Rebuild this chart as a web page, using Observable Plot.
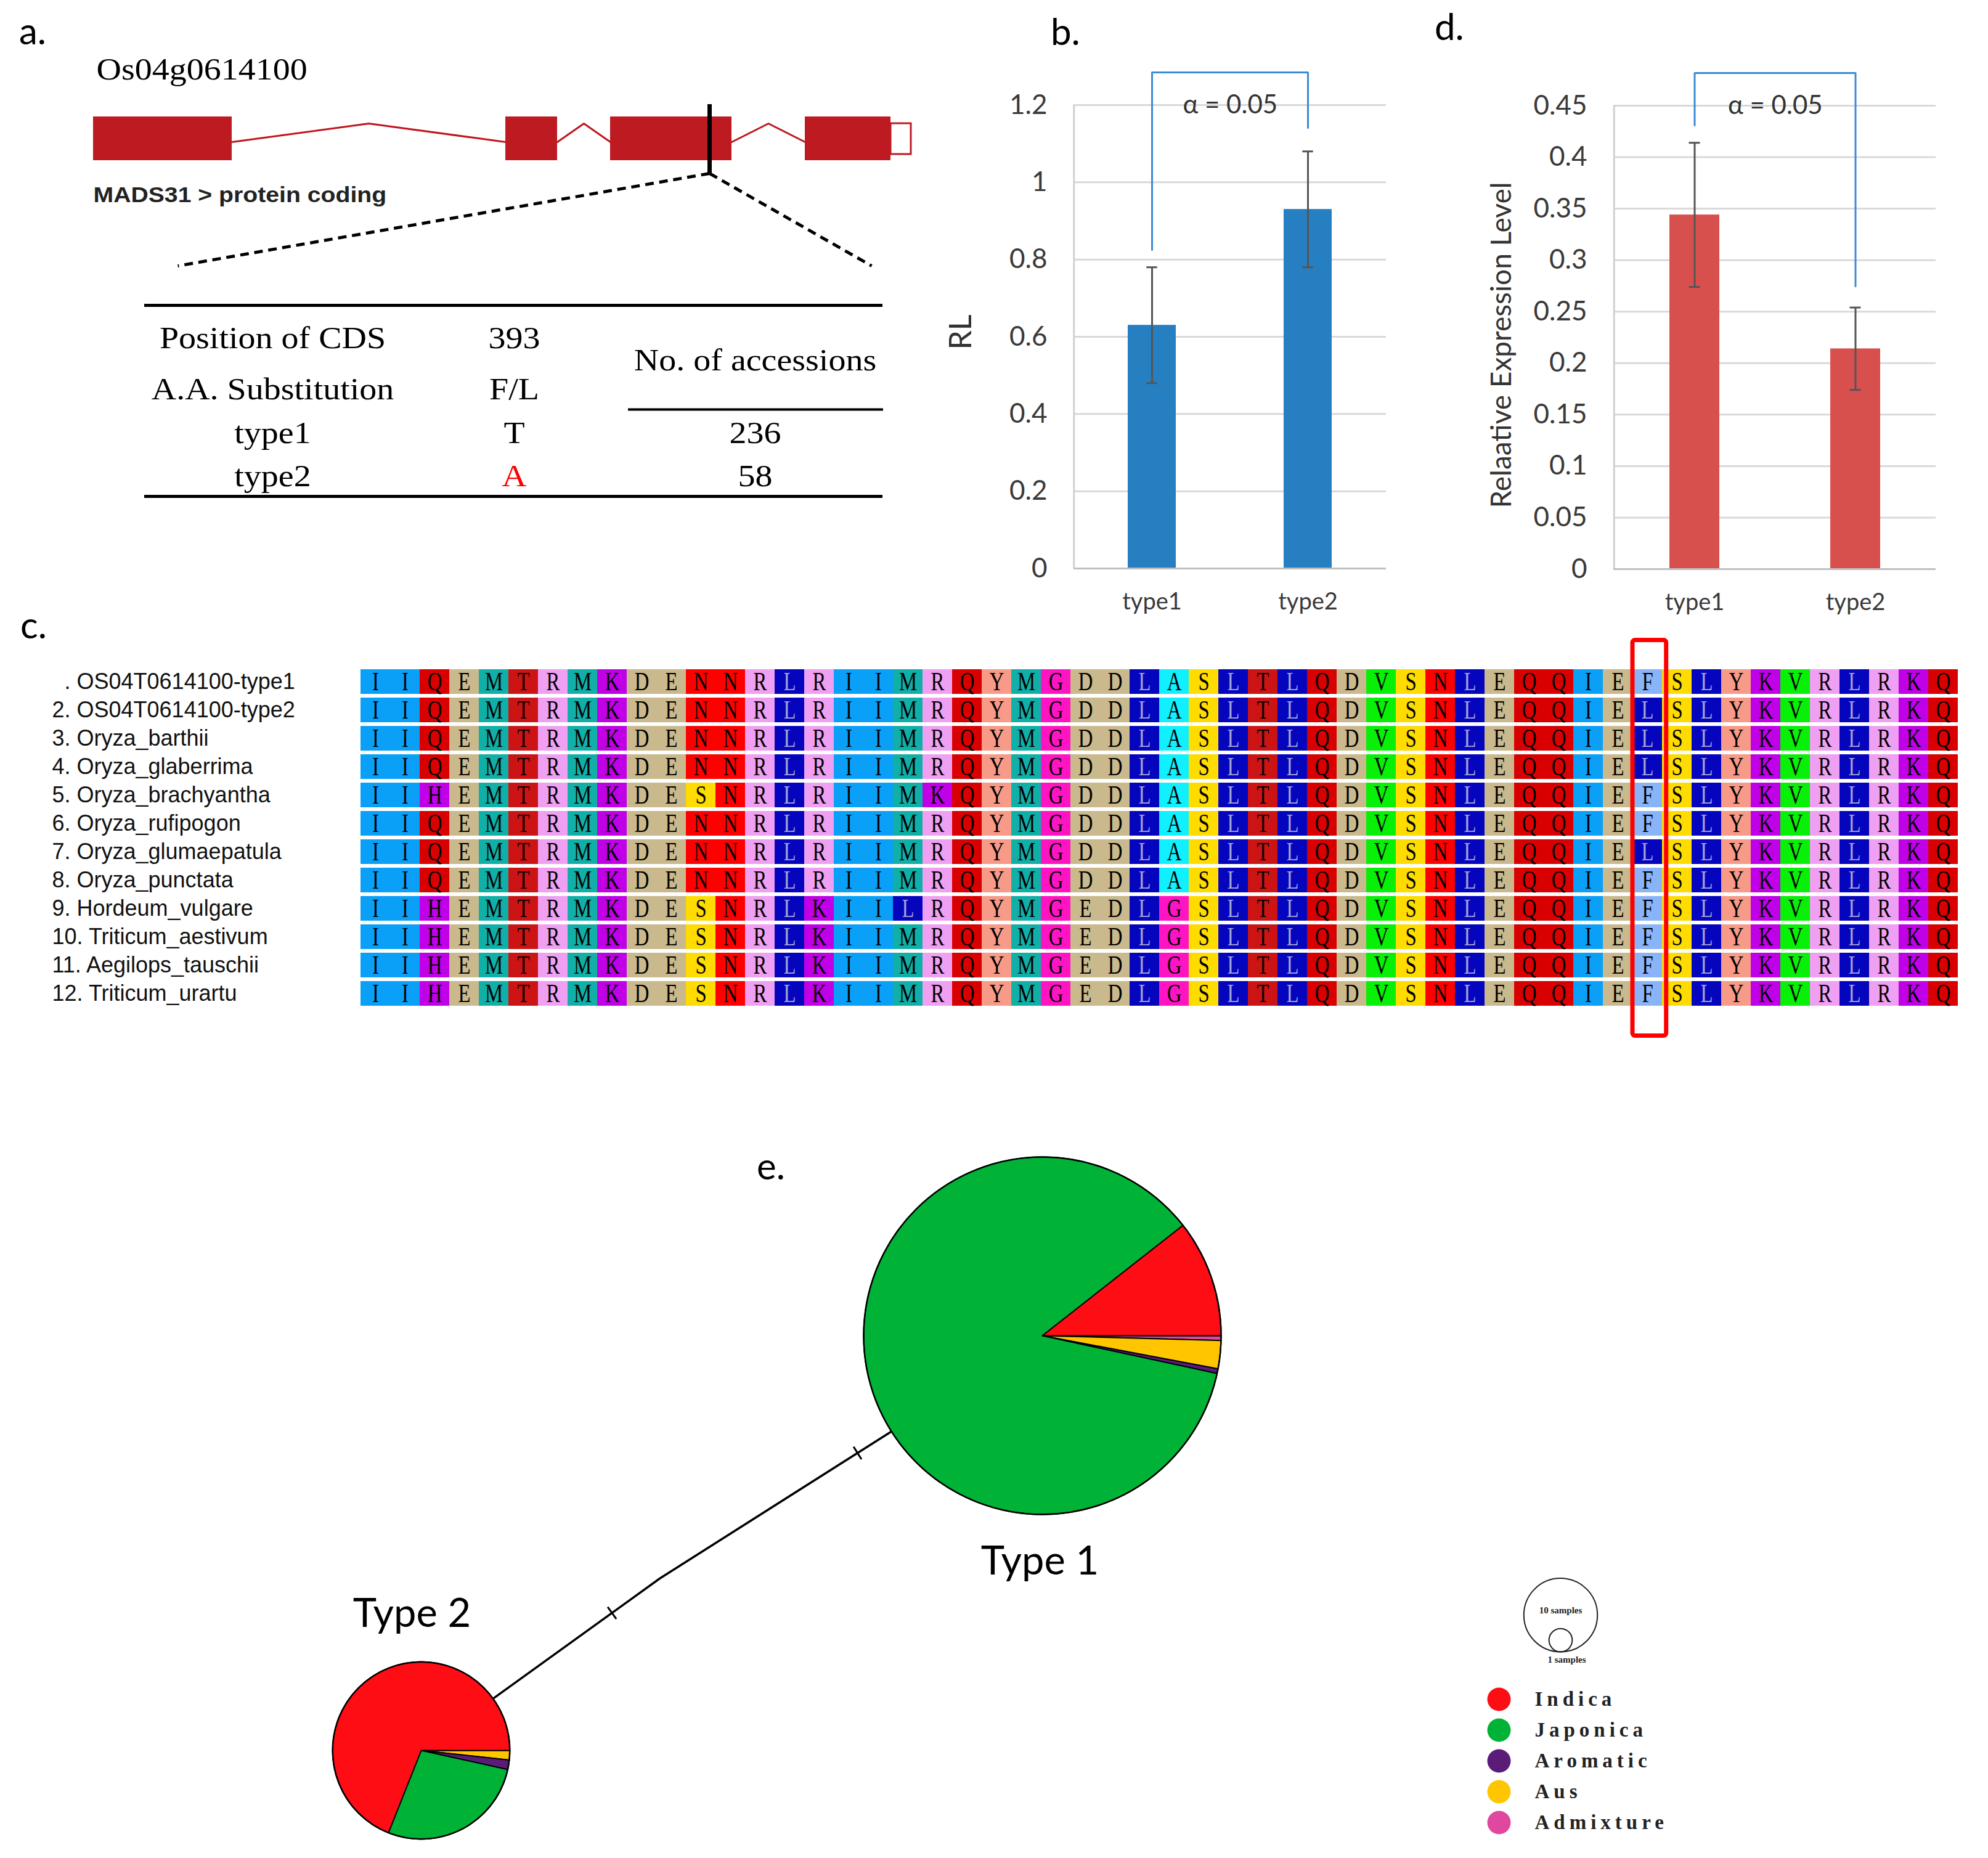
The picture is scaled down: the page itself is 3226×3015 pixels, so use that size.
<!DOCTYPE html>
<html>
<head>
<meta charset="utf-8">
<script src="https://cdn.jsdelivr.net/npm/d3@7"></script>
<script src="https://cdn.jsdelivr.net/npm/@observablehq/plot@0.6"></script>
<style>
  html, body { margin: 0; padding: 0; background: #fff; overflow: hidden; }
  #fig { position: relative; width: 3226px; height: 3015px; background: #fff; overflow: hidden; }
</style>
</head>
<body>
<div id="fig"></div>
<script>
// ======================= DATA =======================
// (a) gene model, in gene units (origin = start of exon 1)
const geneName = "Os04g0614100";
const transcriptName = "MADS31 > protein coding";
const exonStarts = [0, 669, 839, 1155];
const exonEnds = [225, 753, 1036, 1294];
const utrStarts = [1294];
const utrEnds = [1327];
const snpPositions = [1000];
// (a) table
const cdsPosition = "393";
const aaSubstitution = "F/L";
const accessionTypes = ["type1", "type2"];
const accessionAlleles = ["T", "A"];
const accessionCounts = ["236", "58"];

// (b) RL
const expTypes = ["type1", "type2"];
const rlValues = [0.63, 0.93];
const rlErrors = [0.15, 0.15];
const rlTicks = [0, 0.2, 0.4, 0.6, 0.8, 1, 1.2];
// (d) relative expression level
const relValues = [0.344, 0.214];
const relErrors = [0.07, 0.04];
const relTicks = [0, 0.05, 0.1, 0.15, 0.2, 0.25, 0.3, 0.35, 0.4, 0.45];
const alphaText = "\u03b1 = 0.05";

// (c) alignment
const seqNames = [
  "\u2007. OS04T0614100-type1",
  "2. OS04T0614100-type2",
  "3. Oryza_barthii",
  "4. Oryza_glaberrima",
  "5. Oryza_brachyantha",
  "6. Oryza_rufipogon",
  "7. Oryza_glumaepatula",
  "8. Oryza_punctata",
  "9. Hordeum_vulgare",
  "10. Triticum_aestivum",
  "11. Aegilops_tauschii",
  "12. Triticum_urartu"
];
const sequences = [
  "IIQEMTRMKDENNRLRIIMRQYMGDDLASLTLQDVSNLEQQIEFSLYKVRLRKQ",
  "IIQEMTRMKDENNRLRIIMRQYMGDDLASLTLQDVSNLEQQIELSLYKVRLRKQ",
  "IIQEMTRMKDENNRLRIIMRQYMGDDLASLTLQDVSNLEQQIELSLYKVRLRKQ",
  "IIQEMTRMKDENNRLRIIMRQYMGDDLASLTLQDVSNLEQQIELSLYKVRLRKQ",
  "IIHEMTRMKDESNRLRIIMKQYMGDDLASLTLQDVSNLEQQIEFSLYKVRLRKQ",
  "IIQEMTRMKDENNRLRIIMRQYMGDDLASLTLQDVSNLEQQIEFSLYKVRLRKQ",
  "IIQEMTRMKDENNRLRIIMRQYMGDDLASLTLQDVSNLEQQIELSLYKVRLRKQ",
  "IIQEMTRMKDENNRLRIIMRQYMGDDLASLTLQDVSNLEQQIEFSLYKVRLRKQ",
  "IIHEMTRMKDESNRLKIILRQYMGEDLGSLTLQDVSNLEQQIEFSLYKVRLRKQ",
  "IIHEMTRMKDESNRLKIIMRQYMGEDLGSLTLQDVSNLEQQIEFSLYKVRLRKQ",
  "IIHEMTRMKDESNRLKIIMRQYMGEDLGSLTLQDVSNLEQQIEFSLYKVRLRKQ",
  "IIHEMTRMKDESNRLKIIMRQYMGEDLGSLTLQDVSNLEQQIEFSLYKVRLRKQ"
];
const highlightColumns = [43];

// (e) haplotype network
const groups = ["Indica", "Japonica", "Aromatic", "Aus", "Admixture"];
const hapNames = ["Type 1", "Type 2"];
const hapCounts = [
  [25, 203, 1, 6, 1],   // Type 1 : Indica, Japonica, Aromatic, Aus, Admixture
  [40, 16, 1, 1, 0]     // Type 2
];
const sizeLegendSamples = [10, 1];
const sizeLegendLabels = ["10 samples", "1 samples"];

// ======================= STYLES / LAYOUT =======================
const aaColors = {
  I: "#0AA0F8", Q: "#D80000", E: "#C9B98C", D: "#C9B98C", M: "#10B0A8",
  T: "#CC1414", R: "#EFA0F2", K: "#C000E6", H: "#C000E6", N: "#FF0000",
  L: "#0505BE", S: "#FFDC00", Y: "#F79A88", G: "#FF14C4", A: "#10F0FF",
  V: "#08F008", F: "#8AB4FA"
};
const groupColors = ["#FF0D15", "#00B336", "#5A1C78", "#FFC600", "#E0489F"];
const fig = document.getElementById("fig");
function place(el, left, top) {
  el.style.position = "absolute";
  el.style.left = left + "px";
  el.style.top = top + "px";
  fig.appendChild(el);
  return el;
}
function squeezeText(t, sx) {
  const tr = t.getAttribute("transform") || "";
  const x = parseFloat(t.getAttribute("x")) || 0;
  const y = parseFloat(t.getAttribute("y")) || 0;
  t.setAttribute("transform", `${tr} translate(${x},${y}) scale(${sx},1) translate(${-x},${-y})`);
}
const baseStyle = {background: "transparent", overflow: "visible", fontFamily: "Lato", color: "#3a3a3a"};

// ======================= PANEL a =======================
const TRACK = {top: 189, bottom: 260, intronBase: 230, intronPeak: 200, utrTop: 200, utrBottom: 250, snpTop: 169, snpBottom: 281, zoomY: 431};
const exons = exonStarts.map((s, i) => ({start: s, end: exonEnds[i]}));
const utrs = utrStarts.map((s, i) => ({start: s, end: utrEnds[i]}));
const intronPts = [];
for (let i = 0; i < exons.length - 1; i++) {
  const a = exons[i].end, b = exons[i + 1].start;
  intronPts.push({id: i, x: a, y: TRACK.intronBase}, {id: i, x: (a + b) / 2, y: TRACK.intronPeak}, {id: i, x: b, y: TRACK.intronBase});
}
const zoomLines = [
  {x1: snpPositions[0], y1: TRACK.snpBottom, x2: 137, y2: TRACK.zoomY},
  {x1: snpPositions[0], y1: TRACK.snpBottom, x2: 1263, y2: TRACK.zoomY}
];
const TABLE = {colX: [291, 683, 1074], headY: [564, 647], countHeadY: 600, rowY: [718, 788]};
const tableRules = [
  {x1: 83, x2: 1281, y: 495, w: 5},
  {x1: 868, x2: 1282, y: 664, w: 4},
  {x1: 83, x2: 1281, y: 805, w: 5}
];
const tableCells = [
  {x: TABLE.colX[0], y: TABLE.headY[0], text: "Position of CDS", c: "#000"},
  {x: TABLE.colX[1], y: TABLE.headY[0], text: cdsPosition, c: "#000"},
  {x: TABLE.colX[0], y: TABLE.headY[1], text: "A.A. Substitution", c: "#000"},
  {x: TABLE.colX[1], y: TABLE.headY[1], text: aaSubstitution, c: "#000"},
  {x: TABLE.colX[2], y: TABLE.countHeadY, text: "No. of accessions", c: "#000"}
];
accessionTypes.forEach((t, i) => {
  tableCells.push({x: TABLE.colX[0], y: TABLE.rowY[i], text: t, c: "#000"});
  tableCells.push({x: TABLE.colX[1], y: TABLE.rowY[i], text: accessionAlleles[i], c: i === 1 ? "#FF0000" : "#000"});
  tableCells.push({x: TABLE.colX[2], y: TABLE.rowY[i], text: accessionCounts[i], c: "#000"});
});
const panelA = Plot.plot({
  width: 1500, height: 860, margin: 0,
  x: {domain: [-151, 1349], range: [0, 1500], axis: null},
  y: {domain: [0, 860], range: [0, 860], axis: null},
  color: {type: "identity"},
  style: baseStyle,
  marks: [
    Plot.line(intronPts, {x: "x", y: "y", z: "id", stroke: "#C0161E", strokeWidth: 3}),
    Plot.rect(exons, {x1: "start", x2: "end", y1: TRACK.top, y2: TRACK.bottom, fill: "#BD1A22"}),
    Plot.rect(utrs, {x1: "start", x2: "end", y1: TRACK.utrTop, y2: TRACK.utrBottom, fill: "#fff", stroke: "#BD1A22", strokeWidth: 3}),
    Plot.link(zoomLines, {x1: "x1", y1: "y1", x2: "x2", y2: "y2", stroke: "#000", strokeWidth: 5, strokeDasharray: "14,9"}),
    Plot.ruleX(snpPositions, {y1: TRACK.snpTop, y2: TRACK.snpBottom, stroke: "#000", strokeWidth: 7}),
    Plot.ruleY(tableRules, {y: "y", x1: "x1", x2: "x2", stroke: "#000", strokeWidth: "w"}),
    Plot.text([geneName], {x: 5, y: 128, textAnchor: "start", lineAnchor: "bottom", fontSize: 50, fontFamily: "Liberation Serif", fill: "#000"}),
    Plot.text([transcriptName], {x: 0, y: 327, textAnchor: "start", lineAnchor: "bottom", fontSize: 35, fontFamily: "Liberation Sans", fontWeight: "bold", fill: "#222"}),
    Plot.text(tableCells, {x: "x", y: "y", text: "text", fill: "c", lineAnchor: "bottom", fontSize: 50, fontFamily: "Liberation Serif"})
  ]
});
panelA.querySelectorAll("text").forEach(t => squeezeText(t, 1.12));
place(panelA, 0, 0);

// ======================= PANELS b & d =======================
function barPanel(cfg) {
  const data = expTypes.map((t, i) => ({type: t, value: cfg.values[i], err: cfg.errors[i]}));
  const frameW = cfg.width - cfg.mL - cfg.mR;
  const step = frameW / expTypes.length;
  const bw = step * (1 - 0.69);
  const capInset = (bw - 18) / 2;
  const top = cfg.ticks[cfg.ticks.length - 1];
  return Plot.plot({
    width: cfg.width, height: 1010,
    marginLeft: cfg.mL, marginRight: cfg.mR, marginTop: cfg.mT, marginBottom: cfg.mB,
    style: {...baseStyle, fontSize: "44px"},
    x: {type: "band", domain: expTypes, paddingInner: 0.69, paddingOuter: 0.345, align: 0.5, axis: null},
    y: {domain: [0, top], ticks: cfg.ticks, tickFormat: d => String(d), tickSize: 0, tickPadding: 43, label: null},
    marks: [
      Plot.ruleY(cfg.ticks.filter(t => t > 0), {stroke: "#D9D9D9", strokeWidth: 3}),
      Plot.ruleX([expTypes[0]], {y1: 0, y2: top, dx: -step / 2, stroke: "#D0D0D0", strokeWidth: 3}),
      Plot.barY(data, {x: "type", y: "value", fill: cfg.color}),
      Plot.ruleY([0], {stroke: "#BFBFBF", strokeWidth: 3}),
      Plot.ruleX(data, {x: "type", y1: d => d.value - d.err, y2: d => d.value + d.err, stroke: "#555", strokeWidth: 3}),
      Plot.tickY(data, {x: "type", y: d => d.value + d.err, stroke: "#555", strokeWidth: 3, insetLeft: capInset, insetRight: capInset}),
      Plot.tickY(data, {x: "type", y: d => d.value - d.err, stroke: "#555", strokeWidth: 3, insetLeft: capInset, insetRight: capInset}),
      Plot.line(cfg.bracket, {x: "x", y: "y", stroke: "#3A8BD6", strokeWidth: 3}),
      Plot.text([alphaText], {x: () => expTypes[0], y: () => top, dx: step / 2, fontSize: 42, fontFamily: "Lato", fill: "#333"}),
      Plot.text(expTypes, {x: d => d, frameAnchor: "bottom", lineAnchor: "top", dy: 40, fontSize: 38, fontFamily: "Lato", fill: "#3a3a3a"})
    ]
  });
}
const panelB = barPanel({
  values: rlValues, errors: rlErrors, ticks: rlTicks, color: "#267FC0",
  width: 800, mL: 242, mR: 51, mT: 170, mB: 88,
  bracket: [{x: "type1", y: 0.825}, {x: "type1", y: 1.2845}, {x: "type2", y: 1.2845}, {x: "type2", y: 1.141}]
});
place(panelB, 1500, 0);
const panelD = barPanel({
  values: relValues, errors: relErrors, ticks: relTicks, color: "#D8504D",
  width: 886, mL: 278, mR: 85, mT: 171, mB: 87,
  bracket: [{x: "type1", y: 0.4309}, {x: "type1", y: 0.4817}, {x: "type2", y: 0.4817}, {x: "type2", y: 0.2747}]
});
place(panelD, 2340, 0);

// ======================= PANEL c =======================
const cellData = [];
sequences.forEach((s, r) => [...s].forEach((aa, c) => cellData.push({row: r, col: c, aa})));
const nCols = sequences[0].length;
const panelC = Plot.plot({
  width: 3226, height: 680,
  marginLeft: 571, marginRight: 35, marginTop: 58, marginBottom: 59,
  x: {type: "band", domain: d3.range(nCols), padding: 0, axis: null},
  y: {type: "band", domain: d3.range(sequences.length), paddingInner: 0.13, paddingOuter: 0.065, axis: null},
  color: {type: "identity"},
  style: baseStyle,
  marks: [
    Plot.cell(cellData, {x: "col", y: "row", fill: d => aaColors[d.aa], inset: 0}),
    Plot.text(cellData, {x: "col", y: "row", text: "aa", fill: d => d.aa === "L" ? "#A4A4D4" : "#000", fontSize: 42, fontFamily: "Liberation Serif"}),
    Plot.cell(highlightColumns, {x: d => d, fill: "none", stroke: "#FF0000", strokeWidth: 7, insetTop: -39.5, insetBottom: -39.5, insetLeft: 0, insetRight: -6.7, rx: 4}),
    Plot.text(seqNames, {y: (d, i) => i, text: d => d, frameAnchor: "left", textAnchor: "start", dx: -487, fontSize: 36, fontFamily: "Liberation Sans", fill: "#111"})
  ]
});
panelC.querySelectorAll("text").forEach(t => { if (t.textContent.length === 1) squeezeText(t, 0.78); });
place(panelC, 0, 1020);

// ======================= PANEL e =======================
const E = {
  top: 1850, height: 1165,
  nodes: [{cx: 1691, cy: 2167, lx: 1687, ly: 2534}, {cx: 683, cy: 2840, lx: 668, ly: 2619}],
  kink: {x: 1070, y: 2561},
  mutations: [{seg: 0, t: 0.8}, {seg: 1, t: 0.517}],
  tickHalf: 12,
  sizeLegend: {x: 2532, bottom: 2680, textY: [2613, 2693], textX: [2532, 2542]},
  legend: {dotX: 2432, textX: 2490, y0: 2757, dy: 50}
};
const rMax = 290;
const rScale = d3.scaleSqrt().domain([0, d3.sum(hapCounts[0])]).range([0, rMax]);
const sliceOrder = [4, 3, 2, 1, 0]; // clockwise from east: Admixture, Aus, Aromatic, Japonica, Indica
const pieGen = d3.pie().sort(null).value(d => d.n).startAngle(Math.PI / 2).endAngle(Math.PI / 2 + 2 * Math.PI);
const nodes = hapNames.map((name, h) => ({name, n: d3.sum(hapCounts[h]), ...E.nodes[h]}));
const sliceMarks = [];
nodes.forEach((node, h) => {
  const r = rScale(node.n);
  const arcs = pieGen(sliceOrder.map(i => ({color: groupColors[i], n: hapCounts[h][i]})));
  arcs.filter(a => a.data.n > 0).forEach(a => {
    const pts = [{x: node.cx, y: node.cy}];
    const steps = Math.max(2, Math.ceil((a.endAngle - a.startAngle) / (Math.PI / 360)));
    for (let k = 0; k <= steps; k++) {
      const t = a.startAngle + (a.endAngle - a.startAngle) * k / steps;
      pts.push({x: node.cx + r * Math.sin(t), y: node.cy - r * Math.cos(t)});
    }
    pts.push({x: node.cx, y: node.cy});
    sliceMarks.push(Plot.line(pts, {x: "x", y: "y", fill: a.data.color, stroke: "#000", strokeWidth: 2, strokeLinejoin: "round"}));
  });
});
const edgePts = [{x: nodes[1].cx, y: nodes[1].cy}, {x: E.kink.x, y: E.kink.y}, {x: nodes[0].cx, y: nodes[0].cy}];
const mutTicks = E.mutations.map(m => {
  const p = edgePts[m.seg], q = edgePts[m.seg + 1];
  const x = p.x + (q.x - p.x) * m.t, y = p.y + (q.y - p.y) * m.t;
  const len = Math.hypot(q.x - p.x, q.y - p.y);
  const nx = -(q.y - p.y) / len, ny = (q.x - p.x) / len;
  return {x1: x - nx * E.tickHalf, y1: y - ny * E.tickHalf, x2: x + nx * E.tickHalf, y2: y + ny * E.tickHalf};
});
const sizeLegend = sizeLegendSamples.map((n, i) => ({n, label: sizeLegendLabels[i], tx: E.sizeLegend.textX[i], ty: E.sizeLegend.textY[i]}));
const legendRows = groups.map((g, i) => ({g, color: groupColors[i], y: E.legend.y0 + i * E.legend.dy}));
const panelE = Plot.plot({
  width: 3226, height: E.height, margin: 0,
  x: {domain: [0, 3226], range: [0, 3226], axis: null},
  y: {domain: [E.top, E.top + E.height], range: [0, E.height], axis: null},
  r: {type: "sqrt", domain: [0, d3.sum(hapCounts[0])], range: [0, rMax]},
  color: {type: "identity"},
  style: baseStyle,
  marks: [
    Plot.line(edgePts, {x: "x", y: "y", stroke: "#000", strokeWidth: 3.5}),
    Plot.link(mutTicks, {x1: "x1", y1: "y1", x2: "x2", y2: "y2", stroke: "#000", strokeWidth: 3}),
    ...sliceMarks,
    Plot.dot(nodes, {x: "cx", y: "cy", r: "n", fill: "none", stroke: "#000", strokeWidth: 2.5}),
    Plot.text(nodes, {x: "lx", y: "ly", text: "name", fontSize: 65, fontFamily: "Lato", fill: "#000"}),
    Plot.dot(sizeLegend, {x: E.sizeLegend.x, y: d => E.sizeLegend.bottom - rScale(d.n), r: "n", fill: "none", stroke: "#222", strokeWidth: 2}),
    Plot.text(sizeLegend, {x: "tx", y: "ty", text: "label", fontSize: 15, fontFamily: "Liberation Serif", fontWeight: "bold", fill: "#222"}),
    Plot.dot(legendRows, {x: E.legend.dotX, y: "y", r: 19, fill: "color"}),
    Plot.text(legendRows, {x: E.legend.textX, y: "y", text: "g", textAnchor: "start", fontSize: 33, fontFamily: "Liberation Serif", fontWeight: "bold", fill: "#222"})
  ]
});
panelE.querySelectorAll("text").forEach(t => { if (groups.includes(t.textContent)) t.style.letterSpacing = "7px"; });
place(panelE, 0, E.top);

// ======================= OVERLAY: panel letters & y-axis titles =======================
const overlay = d3.create("svg").attr("width", 3226).attr("height", 3015)
  .style("position", "absolute").style("left", "0px").style("top", "0px").style("pointer-events", "none");
const panelLetters = [
  {t: "a.", x: 31, y: 72}, {t: "b.", x: 1705, y: 73}, {t: "c.", x: 33, y: 1036},
  {t: "d.", x: 2328, y: 65}, {t: "e.", x: 1228, y: 1914}
];
overlay.selectAll("text.pl").data(panelLetters).join("text")
  .attr("x", d => d.x).attr("y", d => d.y).text(d => d.t)
  .attr("font-family", "Lato").attr("font-size", 60).attr("fill", "#000");
const yTitles = [
  {t: "RL", x: 1557, y: 539, size: 50},
  {t: "Relaative Expression Level", x: 2434, y: 560, size: 46}
];
overlay.selectAll("text.yt").data(yTitles).join("text")
  .attr("transform", d => `translate(${d.x},${d.y}) rotate(-90)`)
  .attr("text-anchor", "middle").attr("dominant-baseline", "central")
  .attr("font-family", "Lato").attr("font-size", d => d.size).attr("fill", "#333").text(d => d.t);
fig.appendChild(overlay.node());
</script>
</body>
</html>
